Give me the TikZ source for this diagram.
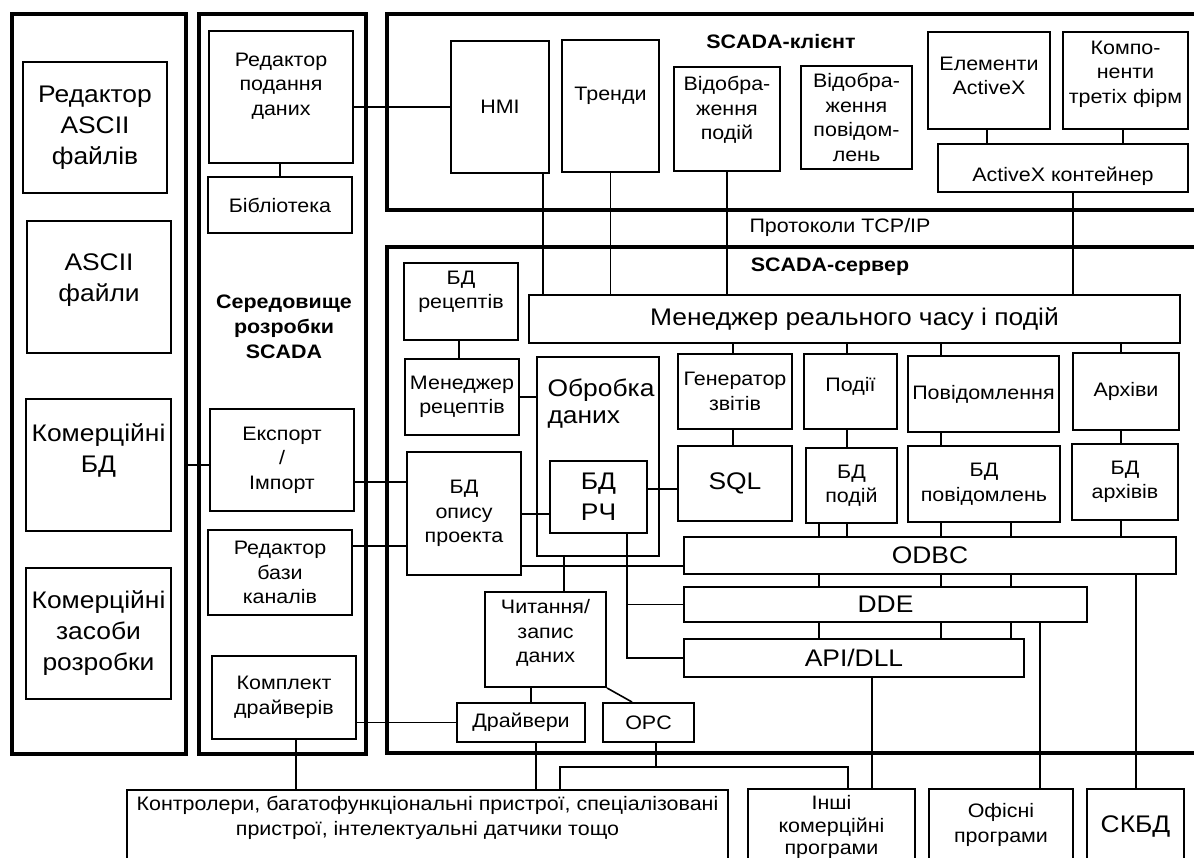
\documentclass[tikz,border=0pt]{standalone}
\usepackage{fontspec}
\setmainfont{Liberation Sans}[FakeStretch=1.1]

\tikzset{
  panel/.style={draw, line width=4pt, inner sep=0pt},
  box/.style={draw, line width=2pt, inner sep=0pt, align=center, font=\fontsize{19.5}{24.5}\selectfont},
  bigbox/.style={box, font=\fontsize{24}{31}\selectfont},
  txt/.style={align=center, font=\fontsize{19.5}{24.5}\selectfont},
  bigtxt/.style={align=center, font=\fontsize{24}{31}\selectfont},
  head/.style={align=center, font=\bfseries\fontsize{19.5}{25}\selectfont},
  wire/.style={line width=1.6pt},
}

\begin{document}
\begin{tikzpicture}[x=1pt, y=-1pt]
    \useasboundingbox (0,0) rectangle (1194,858);
    \clip (0,0) rectangle (1194,858);
    % панелі
    \node[panel, minimum width=174, minimum height=740] (lpanel) at (99,384) {};
    \node[panel, minimum width=167, minimum height=740] (dpanel) at (282.5,384) {};
    \node[panel, minimum width=823, minimum height=196] (cpanel) at (798.5,112) {};
    \node[panel, minimum width=823, minimum height=506] (spanel) at (798.5,500) {};
    \node[head] (dtitle) at (284,327) {Середовище\\розробки\\SCADA};
    \node[head] (ctitle) at (781,42) {SCADA-клієнт};
    \node[head] (stitle) at (830,267) {SCADA-сервер};
    \node[txt] (tcp) at (840,227) {Протоколи TCP/IP};
    % ліва панель
    \node[bigbox, minimum width=144, minimum height=131] (ased) at (95,127.5) {Редактор\\ASCII\\файлів};
    \node[bigbox, minimum width=144, minimum height=132] (asf) at (99,287) {};
    \node[bigtxt] (asft) at (99,280) {ASCII\\файли};
    \node[bigbox, minimum width=145, minimum height=132] (cdb) at (98.5,465) {};
    \node[bigtxt] (cdbt) at (98.5,450) {Комерційні\\БД};
    \node[bigbox, minimum width=145, minimum height=131] (ctl) at (98.5,633.5) {Комерційні\\засоби\\розробки};
    % середовище розробки
    \node[box, minimum width=144, minimum height=132] (ped) at (281,97) {};
    \node[txt] (pedt) at (281,86) {Редактор\\подання\\даних};
    \node[box, minimum width=144, minimum height=56] (lib) at (280,205) {Бібліотека};
    \node[box, minimum width=144, minimum height=102] (exp) at (282,460) {Експорт\\/\\Імпорт};
    \node[box, minimum width=144, minimum height=85] (ched) at (280,572.5) {Редактор\\бази\\каналів};
    \node[box, minimum width=144, minimum height=83] (drvset) at (284,697.5) {Комплект\\драйверів};
    % клієнт
    \node[box, minimum width=98, minimum height=132] (hmi) at (500,107) {HMI};
    \node[box, minimum width=97, minimum height=132] (trend) at (610.5,106) {};
    \node[txt] (trendt) at (610.5,96) {Тренди};
    \node[box, minimum width=106, minimum height=104] (evview) at (727,119) {};
    \node[txt] (evviewt) at (727,110) {Відобра-\\ження\\подій};
    \node[box, minimum width=111, minimum height=103] (msgview) at (856.5,117.5) {Відобра-\\ження\\повідом-\\лень};
    \node[box, minimum width=122, minimum height=97] (axel) at (989,80.5) {};
    \node[txt] (axelt) at (989,76) {Елементи\\ActiveX};
    \node[box, minimum width=125, minimum height=97] (thirdp) at (1125.5,80.5) {};
    \node[txt] (thirdpt) at (1125.5,74) {Компо-\\ненти\\третіх фірм};
    \node[box, minimum width=250, minimum height=48] (axcont) at (1063,168) {};
    \node[txt] (axcontt) at (1063,176) {ActiveX контейнер};
    % сервер
    \node[box, minimum width=114, minimum height=77] (recdb) at (461,301.5) {};
    \node[txt] (recdbt) at (461,292) {БД\\рецептів};
    \node[bigbox, minimum width=651, minimum height=48] (rtm) at (854.5,319) {Менеджер реального часу і подій};
    \node[box, minimum width=114, minimum height=76] (recmgr) at (462,397) {Менеджер\\рецептів};
    \node[box, minimum width=122, minimum height=199] (proc) at (598,456.5) {};
    \node[bigtxt, align=left, anchor=west, font=\fontsize{24}{27}\selectfont] (proct) at (544,404) {Обробка\\даних};
    \node[box, minimum width=114, minimum height=75] (rep) at (735,391.5) {Генератор\\звітів};
    \node[bigbox, minimum width=114, minimum height=75] (sql) at (735,483.5) {SQL};
    \node[box, minimum width=93, minimum height=75] (ev) at (850.5,391.5) {};
    \node[txt] (evt) at (850.5,386) {Події};
    \node[box, minimum width=151, minimum height=76] (msg) at (983.5,394) {Повідомлення};
    \node[box, minimum width=106, minimum height=77] (arch) at (1126,391.5) {Архіви};
    \node[box, minimum width=91, minimum height=75] (evdb) at (851.5,485.5) {БД\\подій};
    \node[box, minimum width=152, minimum height=76] (msgdb) at (984,484) {БД\\повідомлень};
    \node[box, minimum width=106, minimum height=76] (archdb) at (1125,482) {БД\\архівів};
    \node[box, minimum width=114, minimum height=123] (prjdb) at (464,513.5) {БД\\опису\\проекта};
    \node[bigbox, minimum width=97, minimum height=72] (rtdb) at (598.5,497) {БД\\РЧ};
    \node[bigbox, minimum width=492, minimum height=37] (odbc) at (930,555.5) {ODBC};
    \node[bigbox, minimum width=403, minimum height=35] (dde) at (885.5,604.5) {DDE};
    \node[bigbox, minimum width=340, minimum height=38] (api) at (854,658) {API/DLL};
    \node[box, minimum width=121, minimum height=95] (rw) at (545.5,639.5) {};
    \node[txt] (rwt) at (545.5,633) {Читання/\\запис\\даних};
    \node[box, minimum width=128, minimum height=39] (drv) at (521,722.5) {Драйвери};
    \node[box, minimum width=91, minimum height=39] (opc) at (648.5,722.5) {OPC};
    % зовнішні
    \node[box, minimum width=601, minimum height=100] (ctrl) at (427.5,840) {};
    \node[txt] (ctrlt) at (427.5,818) {Контролери, багатофункціональні пристрої, спеціалізовані\\пристрої, інтелектуальні датчики тощо};
    \node[box, minimum width=167, minimum height=100] (oth) at (831.5,839) {};
    \node[txt, font=\fontsize{19.5}{22.5}\selectfont] (otht) at (831.5,827) {Інші\\комерційні\\програми};
    \node[box, minimum width=144, minimum height=100] (off) at (1001,839) {};
    \node[txt] (offt) at (1001,825) {Офісні\\програми};
    \node[box, minimum width=97, minimum height=100] (dbms) at (1135.5,839) {};
    \node[bigtxt] (dbmst) at (1135.5,827) {СКБД};
    % зв'язки клієнта
    \draw[wire] (ped.east |- hmi.west) -- (hmi.west);
    \draw[wire] (lib.north |- ped.south) -- (lib.north);
    \draw[wire] (hmi.south -| 543,0) -- (rtm.north -| 543,0);
    \draw[wire] (trend.south) -- (trend.south |- rtm.north);
    \draw[wire] (evview.south) -- (evview.south |- rtm.north);
    \draw[wire] (axel.south -| 987,0) -- (axcont.north -| 987,0);
    \draw[wire] (thirdp.south -| 1123,0) -- (axcont.north -| 1123,0);
    \draw[wire] (axcont.south -| 1073,0) -- (rtm.north -| 1073,0);
    % зв'язки сервера
    \draw[wire] (recdb.south -| 459,0) -- (recmgr.north -| 459,0);
    \draw[wire] (recmgr.east) -- (recmgr.east -| proc.west);
    \draw[wire] (rtm.south -| 733,0) -- (rep.north -| 733,0);
    \draw[wire] (rep.south -| 733,0) -- (sql.north -| 733,0);
    \foreach \x/\n in {847/ev, 941/msg, 1121/arch}
        \draw[wire] (rtm.south -| \x,0) -- (\n.north -| \x,0);
    \foreach \x/\a/\b in {847/ev/evdb, 941/msg/msgdb, 1121/arch/archdb}
        \draw[wire] (\a.south -| \x,0) -- (\b.north -| \x,0);
    \foreach \x/\n in {819/evdb, 847/evdb, 941/msgdb, 1011/msgdb, 1121/archdb}
        \draw[wire] (\n.south -| \x,0) -- (odbc.north -| \x,0);
    \foreach \x in {819, 941, 1011} {
        \draw[wire] (odbc.south -| \x,0) -- (dde.north -| \x,0);
        \draw[wire] (dde.south -| \x,0) -- (api.north -| \x,0);
    }
    \draw[wire] (rtdb.east |- 0,489) -- (sql.west |- 0,489);
    \draw[wire] (prjdb.east |- 0,514) -- (rtdb.west |- 0,514);
    \draw[wire] (prjdb.east |- 0,566) -- (odbc.west |- 0,566);
    \draw[wire] (exp.east |- 0,482) -- (prjdb.west |- 0,482);
    \draw[wire] (ched.east |- 0,546) -- (prjdb.west |- 0,546);
    \draw[wire] (cdb.east -| lpanel.east) -- (cdb.east -| exp.west);
    \draw[wire] (proc.south -| 564,0) -- (rw.north -| 564,0);
    \draw[wire] (rtdb.south -| 627,0) |- (api.west);
    \draw[wire] (rtdb.south -| 627,0) |- (dde.west);
    \draw[wire] (rw.south -| 531,0) -- (drv.north -| 531,0);
    \draw[wire] (rw.south east) -- (opc.north -| 632,0);
    \draw[wire] (drvset.east |- drv.west) -- (drv.west);
    % зовнішні зв'язки
    \draw[wire] (drvset.south -| 296,0) -- (ctrl.north -| 296,0);
    \draw[wire] (drv.south -| 536,0) -- (ctrl.north -| 536,0);
    \coordinate (busl) at (560,767);
    \coordinate (busr) at (848,767);
    \draw[wire] (opc.south -| 656,0) -- (busl -| 656,0);
    \draw[wire] (ctrl.north -| busl) |- (busr) -- (oth.north -| busr);
    \draw[wire] (odbc.south -| 1136,0) -- (dbms.north -| 1136,0);
    \draw[wire] (dde.south -| 1040,0) -- (off.north -| 1040,0);
    \draw[wire] (api.south -| 872,0) -- (oth.north -| 872,0);
\end{tikzpicture}
\end{document}
